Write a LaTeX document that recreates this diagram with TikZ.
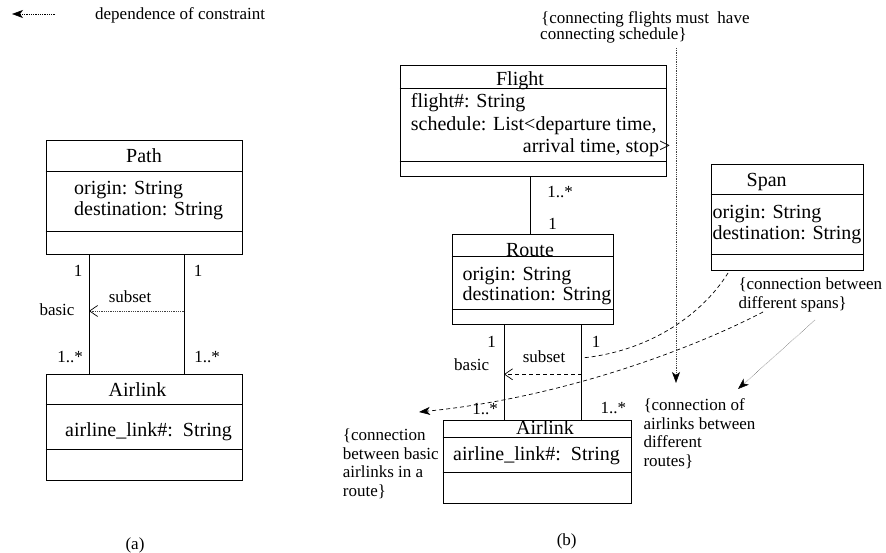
\documentclass[tikz,border=0pt]{standalone}
\usepackage{fontspec}
\setmainfont{Liberation Serif}
\usetikzlibrary{arrows.meta,calc}
\begin{document}
\begin{tikzpicture}[x=1pt,y=-1pt,
  classbox/.style={draw, line width=0.8pt, inner sep=0pt},
  big/.style={font=\fontsize{20}{22}\selectfont, inner sep=0pt},
  small/.style={font=\fontsize{17}{19}\selectfont, inner sep=0pt},
  assoc/.style={line width=0.8pt},
  dep/.style={line width=0.6pt, black!75, dash pattern=on 0.6pt off 1.2pt},
  depthin/.style={line width=0.5pt, black!60, dash pattern=on 0.6pt off 0.8pt},
  rel/.style={line width=0.7pt, dash pattern=on 4pt off 3pt},
  stealthtip/.style={-{Stealth[length=11pt,width=8pt,inset=3pt,black]}},
  barbtip/.style={-{Straight Barb[length=8pt,width=11pt,line width=0.7pt,black]}}
]
\useasboundingbox (0,0) rectangle (886,553);

% ---------- legend ----------
\coordinate (lg1) at (55,14);
\coordinate (lg2) at (12,14);
\draw[dep, stealthtip, draw=black] (lg1) -- (lg2);
\node[small, anchor=base west] (lgtext) at (95,20) {dependence of constraint};

% ---------- (a) ----------
\node[classbox, minimum width=196pt, minimum height=114pt] (path) at (144,197) {};
\draw[classbox] ($(path.north west)+(0,32)$) -- ($(path.north east)+(0,32)$);
\draw[classbox] ($(path.south west)+(0,-23)$) -- ($(path.south east)+(0,-23)$);
\node[big, anchor=base] (pathname) at (144,163) {Path};
\node[big, anchor=base west] (patho) at (74,195) {origin: String};
\node[big, anchor=base west] (pathd) at (74,216) {destination: String};

\node[classbox, minimum width=196pt, minimum height=106pt] (aira) at (144,427) {};
\draw[classbox] ($(aira.north west)+(0,31)$) -- ($(aira.north east)+(0,31)$);
\draw[classbox] ($(aira.south west)+(0,-31)$) -- ($(aira.south east)+(0,-31)$);
\node[big, anchor=base] (airaname) at (137.5,396) {Airlink};
\node[big, anchor=base west] (airaattr) at (65,436) {airline\_link\#:\ \ String};

\draw[assoc] ([xshift=-55pt]path.south) -- ([xshift=-55pt]aira.north);
\draw[assoc] ([xshift=40pt]path.south) -- ([xshift=40pt]aira.north);
\coordinate (sa1) at (184,311);
\coordinate (sa2) at (89,311);
\draw[dep, barbtip] (sa1) -- (sa2);

\node[small, anchor=base] (ma1) at (78,277) {1};
\node[small, anchor=base] (ma2) at (198,277) {1};
\node[small, anchor=base] (ma3) at (70,362) {1..*};
\node[small, anchor=base] (ma4) at (207,362) {1..*};
\node[small, anchor=base] (subseta) at (130,302) {subset};
\node[small, anchor=base] (basica) at (57,316) {basic};
\node[small, anchor=base] (capa) at (135,549) {(a)};

% ---------- (b) ----------
\node[small, anchor=base west] (cf1) at (541,24) {\{connecting flights must\ \ have};
\node[small, anchor=base west] (cf2) at (540,40) {connecting schedule\}};

\node[classbox, minimum width=266pt, minimum height=111pt] (flight) at (533,121.2) {};
\draw[classbox] ($(flight.north west)+(0,23.3)$) -- ($(flight.north east)+(0,23.3)$);
\draw[classbox] ($(flight.south west)+(0,-15.7)$) -- ($(flight.south east)+(0,-15.7)$);
\node[big, anchor=base] (flightname) at (520,86) {Flight};
\node[big, anchor=base west] (flight1) at (410.7,107.7) {flight\#: String};
\node[big, anchor=base west] (flight2) at (410.7,131) {schedule: List<departure time,};
\node[big, anchor=base west] (flight3) at (522.7,152.7) {arrival time, stop>};

\node[classbox, minimum width=161pt, minimum height=90pt] (route) at (532.5,279) {};
\draw[classbox] ($(route.north west)+(0,23.3)$) -- ($(route.north east)+(0,23.3)$);
\draw[classbox] ($(route.south west)+(0,-15.3)$) -- ($(route.south east)+(0,-15.3)$);
\node[big, anchor=base] (routename) at (530,256.7) {Route};
\node[big, anchor=base west] (routeo) at (462.3,281) {origin: String};
\node[big, anchor=base west] (routed) at (462.3,301) {destination: String};

\node[classbox, minimum width=152pt, minimum height=106pt] (span) at (787,217) {};
\draw[classbox] ($(span.north west)+(0,31)$) -- ($(span.north east)+(0,31)$);
\draw[classbox] ($(span.south west)+(0,-15.7)$) -- ($(span.south east)+(0,-15.7)$);
\node[big, anchor=base] (spanname) at (766.7,186.7) {Span};
\node[big, anchor=base west] (spano) at (712.3,218.3) {origin: String};
\node[big, anchor=base west] (spand) at (712.3,239.3) {destination: String};

\node[classbox, minimum width=188pt, minimum height=82.6pt] (airb) at (537,462) {};
\draw[classbox] ($(airb.north west)+(0,16.6)$) -- ($(airb.north east)+(0,16.6)$);
\draw[classbox] ($(airb.south west)+(0,-31)$) -- ($(airb.south east)+(0,-31)$);
\node[big, anchor=base] (airbname) at (545,434.3) {Airlink};
\node[big, anchor=base west] (airbattr) at (453,460) {airline\_link\#:\ \ String};

% associations
\draw[assoc] ([xshift=-3pt]flight.south) -- ([xshift=-2.5pt]route.north);
\draw[assoc] ([xshift=-28.5pt]route.south) -- ([xshift=-33pt]airb.north);
\draw[assoc] ([xshift=49.2pt]route.south) -- ([xshift=44.7pt]airb.north);
\node[small, anchor=base] (mf1) at (560,198) {1..*};
\node[small, anchor=base] (mf2) at (552.7,230) {1};
\node[small, anchor=base] (mr1) at (491.7,347.7) {1};
\node[small, anchor=base] (mr2) at (596,347.7) {1};
\node[small, anchor=base] (mr3) at (485,414.3) {1..*};
\node[small, anchor=base] (mr4) at (613.3,413.3) {1..*};
\node[small, anchor=base] (basicb) at (471.7,370) {basic};
\node[small, anchor=base] (subsetb) at (544,362.7) {subset};

% subset dependency
\coordinate (sb1) at (581.7,374.3);
\coordinate (sb2) at (504,374.3);
\draw[rel, barbtip] (sb1) -- (sb2);

% constraint notes
\node[small, anchor=base west] (cs1) at (738.3,290) {\{connection between};
\node[small, anchor=base west] (cs2) at (738.3,308.3) {different spans\}};
\node[small, anchor=base west] (cr1) at (643.3,410) {\{connection of};
\node[small, anchor=base west] (cr2) at (643.3,429) {airlinks between};
\node[small, anchor=base west] (cr3) at (643.3,447.3) {different};
\node[small, anchor=base west] (cr4) at (643.3,466) {routes\}};
\node[small, anchor=base west] (cb1) at (342.7,440) {\{connection};
\node[small, anchor=base west] (cb2) at (342.7,459) {between basic};
\node[small, anchor=base west] (cb3) at (342.7,477.7) {airlinks in a};
\node[small, anchor=base west] (cb4) at (342.7,496.7) {route\}};

\node[small, anchor=base] (capb) at (566.7,545) {(b)};

% dashed curves from the span note
\coordinate (c1s) at (728,273);
\coordinate (c1e) at (581.7,358);
\draw[rel] (c1s) .. controls (700,318) and (645,352) .. (c1e);
\coordinate (c2s) at (763,312);
\coordinate (c2e) at (419,412);
\draw[rel, stealthtip] (c2s) .. controls (690,350) and (560,398) .. (c2e);

% constraint dependencies
\coordinate (v1) at (676,48);
\coordinate (v2) at (676,383);
\draw[dep, stealthtip] (v1) -- (v2);
\coordinate (d1) at (815,320);
\coordinate (d2) at (738,389);
\draw[depthin, stealthtip] (d1) -- (d2);
\end{tikzpicture}
\end{document}
